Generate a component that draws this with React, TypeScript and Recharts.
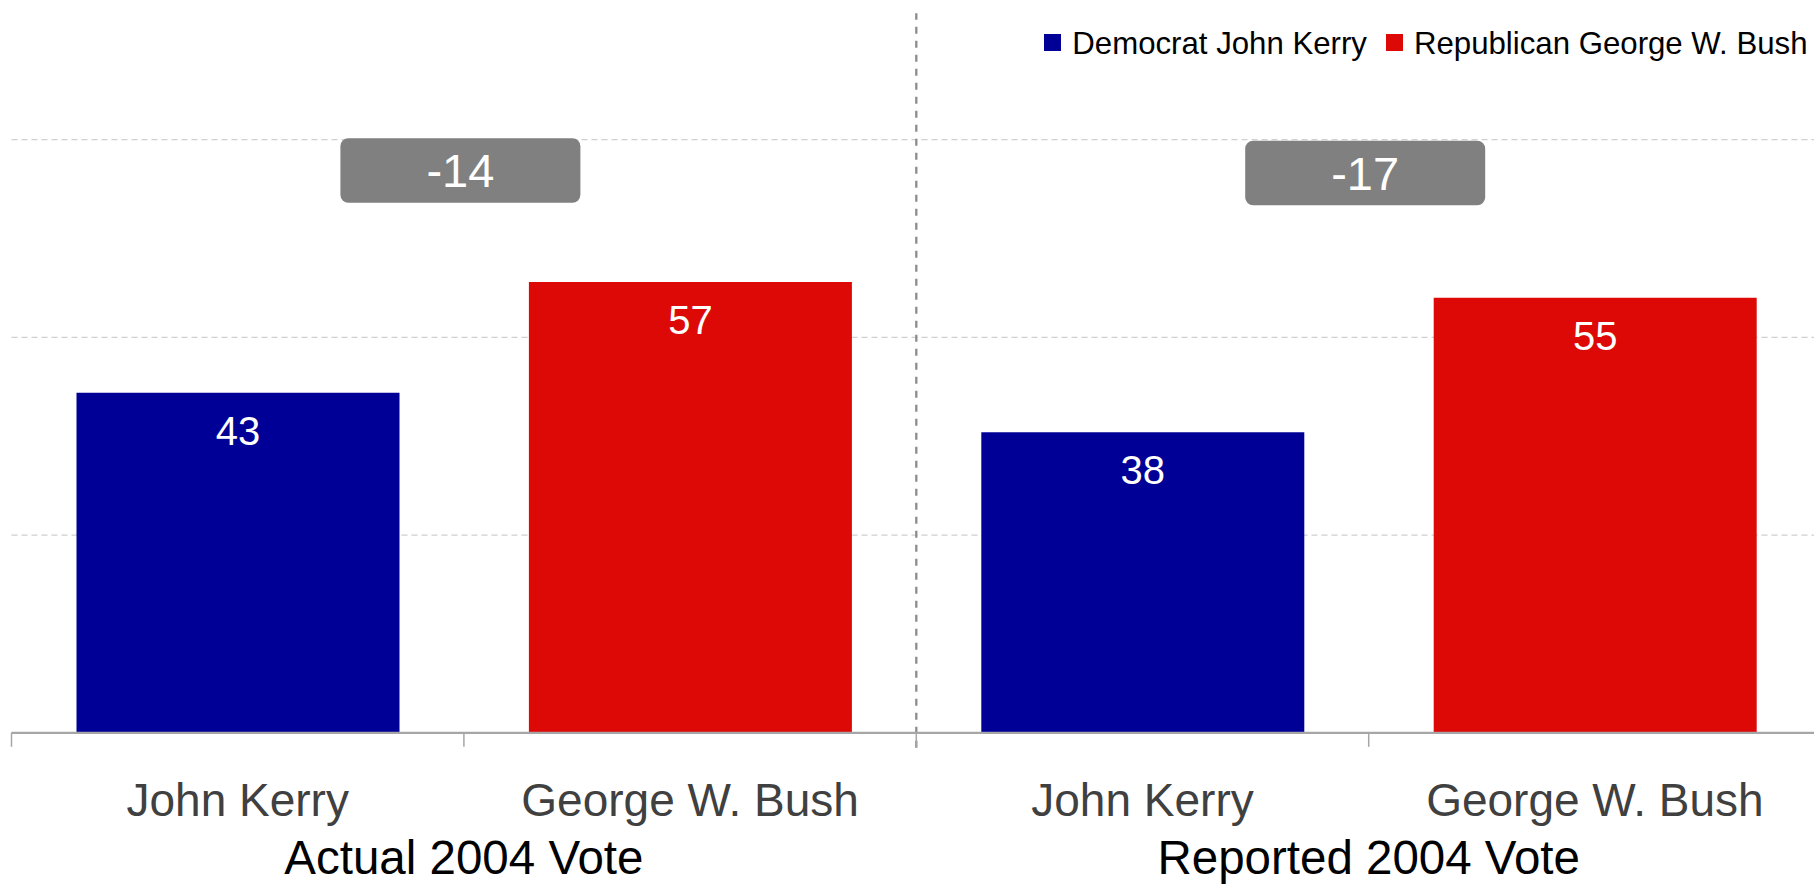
import React from 'react';
import {
  BarChart,
  Bar,
  XAxis,
  YAxis,
  CartesianGrid,
  Legend,
  LabelList,
  ReferenceLine,
  ReferenceDot,
} from 'recharts';

// ---- data ----
const categories = ['John Kerry', 'George W. Bush', 'John Kerry', 'George W. Bush'];
const groupOfCategory = ['Actual 2004 Vote', 'Actual 2004 Vote', 'Reported 2004 Vote', 'Reported 2004 Vote'];
const kerryValues: (number | null)[] = [43, null, 38, null];
const bushValues: (number | null)[] = [null, 57, null, 55];
const seriesNames = ['Democrat John Kerry', 'Republican George W. Bush'];
const groupNames = ['Actual 2004 Vote', 'Reported 2004 Vote'];
const gapLabels = ['-14', '-17'];
const gapLevels = [71.1, 70.8];
const yTicks = [0, 25, 50, 75];
const yDomain: [number, number] = [0, 90];
const boundaryTicks = [0, 1, 2, 3, 4];
const boundaryDomain: [number, number] = [0, 4];
const dividerAt = 2;
const dividerSpan = [-1.9, 91.0];

const data = categories.map((cat, i) => ({
  cat,
  group: groupOfCategory[i],
  kerry: kerryValues[i],
  bush: bushValues[i],
}));

// ---- styles ----
const FONT = '"Liberation Sans", Arial, Helvetica, sans-serif';
const BLUE = '#000096';
const RED = '#DD0907';
const CHART_W = 1830;
const CHART_H = 885;

const ValueLabel = (props: any) => {
  const vb = props.viewBox || {};
  const x = props.x ?? vb.x;
  const y = props.y ?? vb.y;
  const width = props.width ?? vb.width;
  const { value } = props;
  if (value === null || value === undefined || x == null) return null;
  return (
    <text
      x={Number(x) + Number(width) / 2}
      y={Number(y) + 52}
      textAnchor="middle"
      fill="#ffffff"
      fontSize={40}
      fontFamily={FONT}
    >
      {value}
    </text>
  );
};

const makeGapBox = (text: string) => (props: any) => {
  const { cx, cy } = props;
  if (cx == null || cy == null) return <g />;
  const w = 240;
  const h = 64.6;
  const c = cx - 3.5;
  return (
    <g>
      <rect x={c - w / 2} y={cy - h / 2} width={w} height={h} rx={8} ry={8} fill="#808080" />
      <text
        x={c}
        y={cy}
        dy="0.355em"
        textAnchor="middle"
        fill="#ffffff"
        fontSize={47}
        fontFamily={FONT}
      >
        {text}
      </text>
    </g>
  );
};

const CategoryTick = (props: any) => {
  const { x, y, payload } = props;
  return (
    <text x={x} y={y + 69.2} textAnchor="middle" fontSize={46} fill="#404040" fontFamily={FONT}>
      {payload.value}
    </text>
  );
};

const GroupTick = (props: any) => {
  const { x, y, payload } = props;
  return (
    <text x={x} y={y + 47.5} textAnchor="middle" fontSize={47.5} fill="#000000" fontFamily={FONT}>
      {payload.value}
    </text>
  );
};

const EmptyTick = () => <g />;

const renderLegend = (props: any) => {
  const payload = props.payload || [];
  return (
    <div style={{ position: 'relative', height: 0 }}>
      <div
        style={{
          position: 'absolute',
          right: CHART_W - 1807.5,
          top: 28,
          display: 'flex',
          alignItems: 'center',
          whiteSpace: 'nowrap',
          fontFamily: FONT,
          fontSize: 31.2,
          lineHeight: 1,
          color: '#000',
        }}
      >
        {payload.map((item: any, i: number) => (
          <span
            key={i}
            style={{ display: 'flex', alignItems: 'center', marginLeft: i === 0 ? 0 : 19 }}
          >
            <span
              style={{
                display: 'inline-block',
                width: 17,
                height: 17,
                background: item.color,
                marginRight: 11,
                position: 'relative',
                top: -1.5,
              }}
            />
            <span>{item.value}</span>
          </span>
        ))}
      </div>
    </div>
  );
};

const constantKey = () => 0;

export default function App() {
  return (
    <div
      style={{
        position: 'absolute',
        left: 0,
        top: 0,
        width: 1814,
        height: 885,
        overflow: 'hidden',
        background: '#ffffff',
      }}
    >
      <BarChart
        width={CHART_W}
        height={CHART_H}
        data={data}
        margin={{ top: 21.1, right: 8.9, bottom: 0, left: 11.5 }}
      >
        <CartesianGrid
          xAxisId="b_cat"
          vertical={false}
          horizontalValues={yTicks}
          stroke="#d0d0d0"
          strokeDasharray="6 4"
          strokeWidth={1.3}
        />
        <XAxis
          xAxisId="a_num"
          type="number"
          dataKey={constantKey}
          domain={boundaryDomain}
          ticks={boundaryTicks}
          allowDataOverflow
          interval={0}
          height={14}
          tickSize={14}
          tickMargin={0}
          tick={EmptyTick}
          axisLine={{ stroke: '#a6a6a6', strokeWidth: 2.2 }}
          tickLine={{ stroke: '#a6a6a6', strokeWidth: 1.5 }}
        />
        <XAxis
          xAxisId="b_cat"
          dataKey="cat"
          interval={0}
          height={80}
          tickSize={0}
          tickMargin={0}
          axisLine={false}
          tickLine={false}
          tick={CategoryTick}
        />
        <XAxis
          xAxisId="c_grp"
          dataKey="group"
          allowDuplicatedCategory={false}
          interval={0}
          height={58.2}
          tickSize={0}
          tickMargin={0}
          axisLine={false}
          tickLine={false}
          tick={GroupTick}
        />
        <YAxis hide domain={yDomain} ticks={yTicks} />
        <Legend
          verticalAlign="top"
          align="right"
          content={renderLegend}
          wrapperStyle={{ top: 0, left: 0, right: 'auto', width: CHART_W, height: 0 }}
        />
        <Bar
          xAxisId="b_cat"
          dataKey="kerry"
          name={seriesNames[0]}
          stackId="vote"
          fill={BLUE}
          barSize={323}
          isAnimationActive={false}
        >
          <LabelList dataKey="kerry" content={ValueLabel} />
        </Bar>
        <Bar
          xAxisId="b_cat"
          dataKey="bush"
          name={seriesNames[1]}
          stackId="vote"
          fill={RED}
          barSize={323}
          isAnimationActive={false}
        >
          <LabelList dataKey="bush" content={ValueLabel} />
        </Bar>
        <ReferenceLine
          xAxisId="a_num"
          segment={[
            { x: dividerAt, y: dividerSpan[0] },
            { x: dividerAt, y: dividerSpan[1] },
          ]}
          ifOverflow="visible"
          stroke="#8c8c8c"
          strokeWidth={2.3}
          strokeDasharray="7 7"
        />
        {groupNames.map((g, i) => (
          <ReferenceDot
            key={g}
            xAxisId="c_grp"
            x={g}
            y={gapLevels[i]}
            r={1}
            ifOverflow="visible"
            shape={makeGapBox(gapLabels[i])}
          />
        ))}
      </BarChart>
    </div>
  );
}
